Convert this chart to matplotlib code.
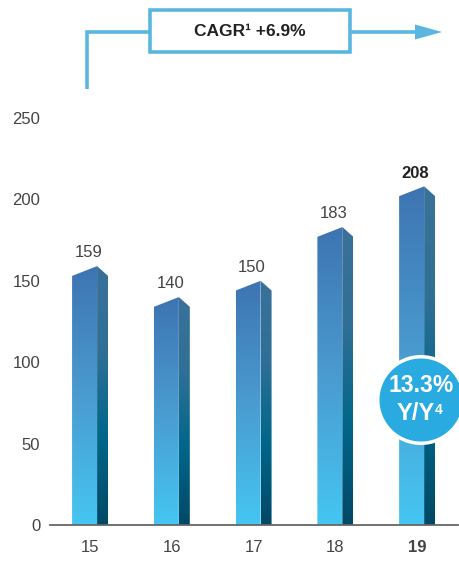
import numpy as np
import matplotlib
matplotlib.use("Agg")
import matplotlib.pyplot as plt
from matplotlib.colors import LinearSegmentedColormap
from matplotlib.patches import Polygon, Rectangle, Circle

plt.rcParams['font.family'] = ['Liberation Sans', 'DejaVu Sans']

# Data
years = ["15", "16", "17", "18", "19"]
values = [159, 140, 150, 183, 208]
y_ticks = [0, 50, 100, 150, 200, 250]
cagr_text = "CAGR\u00b9 +6.9%"
yoy_pct = "13.3%"
yoy_label = "Y/Y"
yoy_note = "4"

W, H = 460, 562
fig = plt.figure(figsize=(W / 100, H / 100), dpi=100)

# Main axes, placed in pixel terms
ax_l, ax_r, ax_b, ax_t = 50, 458, 525, 118
ax = fig.add_axes([ax_l / W, (H - ax_b) / H, (ax_r - ax_l) / W, (ax_b - ax_t) / H])

front_cmap = LinearSegmentedColormap.from_list(
    "front", ["#45c6f2", "#4a9bd0", "#3d74b2"])
side_cmap = LinearSegmentedColormap.from_list(
    "side", ["#004866", "#00668a", "#2f6f96", "#3a7199"])

# bar geometry in x-units
left_off, join_off, right_off = -0.22, 0.086, 0.22
roof = 6.0
grad = np.linspace(0, 1, 256).reshape(-1, 1)

for i, v in enumerate(values):
    xl, xj, xr = i + left_off, i + join_off, i + right_off
    front = Polygon([(xl, 0), (xl, v - roof), (xj, v), (xj, 0)],
                    closed=True, facecolor="none", edgecolor="none")
    side = Polygon([(xj, 0), (xj, v), (xr, v - roof), (xr, 0)],
                   closed=True, facecolor="none", edgecolor="none")
    ax.add_patch(front)
    ax.add_patch(side)
    im1 = ax.imshow(grad, cmap=front_cmap, origin="lower", aspect="auto",
                    extent=[xl, xj, 0, v], zorder=2)
    im1.set_clip_path(front)
    im2 = ax.imshow(grad, cmap=side_cmap, origin="lower", aspect="auto",
                    extent=[xj, xr, 0, v], zorder=2)
    im2.set_clip_path(side)
    bold = i == len(values) - 1
    ax.text(i - 0.02, v + 3.5, str(v), ha="center", va="bottom",
            fontsize=12, color="#222222" if bold else "#444444",
            fontweight="bold" if bold else "normal")

ax.set_xlim(-0.49, 4.5)
ax.set_ylim(0, 250)
ax.set_yticks(y_ticks)
ax.set_yticklabels([str(t) for t in y_ticks])
ax.set_xticks(range(len(years)))
ax.set_xticklabels(years)
ax.get_xticklabels()[-1].set_fontweight("bold")
ax.get_xticklabels()[-1].set_color("#222222")
ax.tick_params(axis="y", length=0, pad=7, labelsize=12, labelcolor="#444444")
ax.tick_params(axis="x", length=0, pad=11, labelsize=12, labelcolor="#444444")
for s in ["top", "right", "left"]:
    ax.spines[s].set_visible(False)
ax.spines["bottom"].set_color("#666666")
ax.spines["bottom"].set_linewidth(1.3)
ax.patch.set_alpha(0)

# Overlay in pixel coordinates for the callouts
ov = fig.add_axes([0, 0, 1, 1])
ov.set_xlim(0, W)
ov.set_ylim(H, 0)
ov.axis("off")
ov.patch.set_alpha(0)

line_c = "#5ab6df"
ov.plot([87, 87, 150], [89, 32, 32], color=line_c, lw=2.6,
        solid_joinstyle="miter", solid_capstyle="butt")
ov.add_patch(Rectangle((150, 10), 200, 42, facecolor="white",
                       edgecolor=line_c, lw=2.6))
ov.text(250, 32, cagr_text, ha="center", va="center", fontsize=12.5,
        fontweight="bold", color="#222222")
ov.plot([350, 416], [32, 32], color=line_c, lw=2.6, solid_capstyle="butt")
ov.add_patch(Polygon([(415, 24.5), (442, 32), (415, 39.5)], closed=True,
                     facecolor=line_c, edgecolor="none"))

# Y/Y badge
ov.add_patch(Circle((421, 400), 45, facecolor="white", edgecolor="none",
                    zorder=5))
ov.add_patch(Circle((421, 400), 41.5, facecolor="#29aae1", edgecolor="none",
                    zorder=6))
ov.text(421, 386, yoy_pct, ha="center", va="center", fontsize=16.5,
        fontweight="bold", color="white", zorder=7)
yy = ov.text(416, 414, yoy_label, ha="center", va="center", fontsize=17,
             fontweight="bold", color="white", zorder=7)
ov.annotate(yoy_note, xy=(1, 1), xycoords=yy, xytext=(-0.5, 0),
            textcoords="offset points", ha="left", va="top", fontsize=10,
            fontweight="bold", color="white", zorder=7)

fig.savefig("out.png", dpi=100)
